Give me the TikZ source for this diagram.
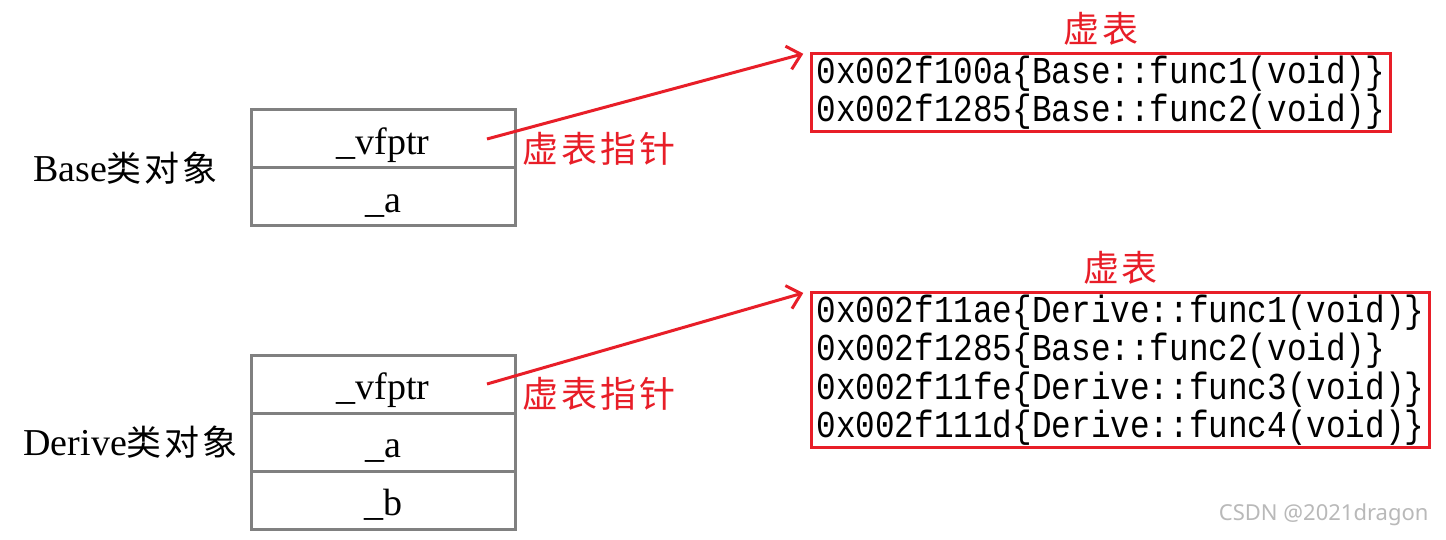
\documentclass[tikz,border=0pt]{standalone}
\usepackage{fontspec}
\setmainfont{Liberation Serif}
\newfontfamily\cjk[LetterSpace=8]{Noto Sans CJK SC}
\newfontfamily\codefont[FakeStretch=0.86]{Liberation Mono}
\newfontfamily\markfont{Noto Sans}
\usetikzlibrary{positioning}
\usetikzlibrary{arrows.meta}
\definecolor{vtred}{RGB}{232,30,40}
\definecolor{cellgray}{RGB}{128,128,128}
\tikzset{
  cell/.style={draw=cellgray, line width=3pt, minimum width=264pt, minimum height=58pt,
    inner sep=0pt, outer sep=0pt, text height=31pt, text depth=0pt, font=\fontsize{38}{42}\selectfont},
  objlabel/.style={font=\fontsize{38}{42}\selectfont},
  vtable/.style={draw=vtred, line width=3pt, align=left, inner xsep=5pt, inner ysep=2pt,
    anchor=north west, font=\codefont\fontsize{38}{38.5}\selectfont},
  redlabel/.style={text=vtred, font=\cjk\fontsize{36}{40}\selectfont},
  vptr/.style={draw=vtred, line width=3pt, -{Straight Barb[length=13pt,width=24pt]}, shorten >=7pt}
}

\begin{document}
\begin{tikzpicture}[x=1pt, y=-1pt]
                \useasboundingbox[fill=white] (0,0) rectangle (1446,540);
                % Base object
                \node[cell] (bptr) at (383,139) {\_vfptr};
                \node[cell, below=0pt of bptr] (ba) {\_a};
                \node[objlabel, left=30pt of bptr.south west] (blabel) {Base{\cjk\fontsize{35}{40}\selectfont 类对象}};

                % Derive object
                \node[cell] (dptr) at (383,384) {\_vfptr};
                \node[cell, below=0pt of dptr] (da) {\_a};
                \node[cell, below=0pt of da] (db) {\_b};
                \node[objlabel, left=10pt of da] (dlabel) {Derive{\cjk\fontsize{35}{40}\selectfont 类对象}};

                % virtual tables
                \node[vtable] (vtb) at (810,52) {0x002f100a\{Base::func1(void)\}\\0x002f1285\{Base::func2(void)\}};
                \node[redlabel, above=3pt of vtb] (vtbname) {虚表};
                \node[vtable] (vtd) at (810,291) {0x002f11ae\{Derive::func1(void)\}\\0x002f1285\{Base::func2(void)\}\\0x002f11fe\{Derive::func3(void)\}\\0x002f111d\{Derive::func4(void)\}};
                \node[redlabel, above=3pt of vtd] (vtdname) {虚表};

                % pointers
                \coordinate (bsrc) at ([xshift=-28pt]bptr.east);
                \draw[vptr] (bsrc) -- (vtb.north west);
                \node[redlabel, right=4pt of bptr, yshift=-10pt] (bptrname) {虚表指针};
                \coordinate (dsrc) at ([xshift=-28pt]dptr.east);
                \draw[vptr] (dsrc) -- (vtd.north west);
                \node[redlabel, right=4pt of dptr, yshift=-10pt] (dptrname) {虚表指针};

                % watermark
                \node[font=\markfont\fontsize{22}{24}\selectfont, text=gray!55, anchor=east] (mark) at (1432,515) {CSDN @2021dragon};
\end{tikzpicture}
\end{document}
